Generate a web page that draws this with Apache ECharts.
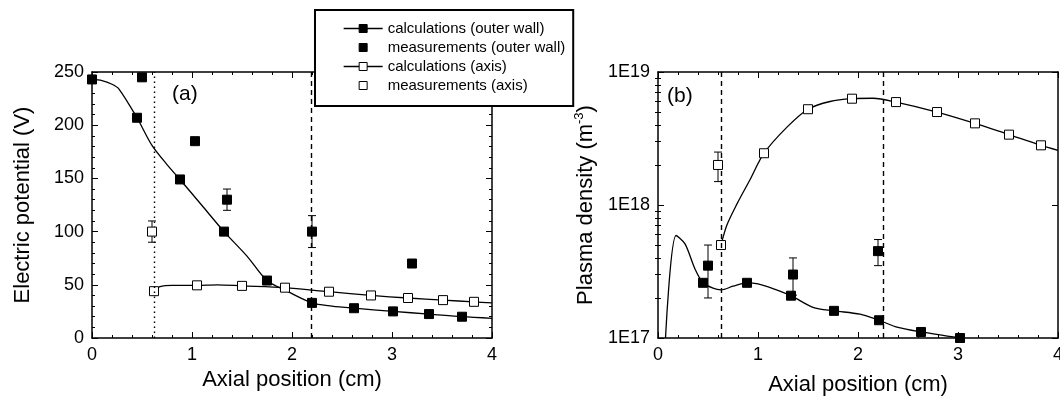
<!DOCTYPE html>
<html>
<head>
<meta charset="utf-8">
<script src="https://cdn.jsdelivr.net/npm/echarts@6/dist/echarts.min.js"></script>
<style>
html, body { margin: 0; background: #fff; }
#chart { width: 1060px; height: 399px; }
</style>
</head>
<body>
<div id="chart"></div>
<script>
// ---- data (a) electric potential ----
var posTicks = [0, 1, 2, 3, 4];
var potentialTicks = [0, 50, 100, 150, 200, 250];
var densityTicks = ['1E17', '1E18', '1E19'];
var densityMinor = [2e17, 3e17, 4e17, 5e17, 6e17, 7e17, 8e17, 9e17, 2e18, 3e18, 4e18, 5e18, 6e18, 7e18, 8e18, 9e18];

// calculations (outer wall): points with a marker, and the extra curve points
var calcWallA = [[0, 243], [0.45, 207], [0.88, 149], [1.32, 100], [1.75, 54], [2.2, 33], [2.62, 28], [3.01, 25], [3.37, 22.5], [3.70, 20]];
var calcWallCurveA = [[0.1, 242], [0.2, 238.5], [0.27, 234], [0.6, 181], [0.75, 163], [1.1, 124.5], [1.55, 77], [1.95, 44], [2.4, 30], [4.0, 18.5]];
var calcAxisA = [[0.62, 44], [1.05, 49.5], [1.5, 49], [1.93, 47.3], [2.37, 43.5], [2.79, 40], [3.16, 37.6], [3.51, 35.6], [3.82, 34]];
var calcAxisCurveA = [[0.68, 48.2], [0.8, 49.5], [1.25, 50], [4.0, 33]];
var measWallA = [[0.5, 245], [1.03, 185], [1.35, 130], [2.2, 100], [3.2, 70]];
var errWallA = [[0.5, 242, 248], [1.35, 120, 140], [2.2, 85, 115]];
var measAxisA = [[0.6, 100]];
var errAxisA = [[0.6, 90, 110]];
var dottedA = [0.62];
var dashedA = [2.19];

// ---- data (b) plasma density ----
var calcWallB = [[0.45, 2.6e17], [0.89, 2.6e17], [1.33, 2.08e17], [1.76, 1.6e17], [2.21, 1.36e17], [2.63, 1.11e17], [3.02, 1.0e17]];
var calcWallCurveB = [[0.075, 1.0e17], [0.18, 5.9e17], [0.27, 5.1e17], [0.37, 3.3e17], [0.55, 2.37e17], [0.63, 2.3e17], [0.75, 2.45e17], [1.0, 2.55e17], [1.15, 2.35e17], [1.55, 1.7e17], [2.02, 1.51e17], [2.4, 1.2e17]];
var calcAxisB = [[0.63, 5.0e17], [1.06, 2.45e18], [1.5, 5.25e18], [1.94, 6.3e18], [2.38, 5.94e18], [2.79, 5.0e18], [3.17, 4.11e18], [3.51, 3.38e18], [3.83, 2.81e18]];
var calcAxisCurveB = [[0.69, 7.1e17], [0.79, 1.02e18], [0.92, 1.55e18], [1.29, 3.85e18], [1.72, 6.0e18], [2.15, 6.35e18], [4.0, 2.58e18]];
var measWallB = [[0.5, 3.5e17], [1.35, 3.0e17], [2.2, 4.5e17]];
var errWallB = [[0.5, 2e17, 5e17], [1.35, 2.1e17, 4e17], [2.2, 3.5e17, 5.5e17]];
var measAxisB = [[0.6, 2.0e18]];
var errAxisB = [[0.6, 1.5e18, 2.5e18]];
var dashedB = [0.63, 2.25];

var FONT = 'Arial, "Liberation Sans", sans-serif';
var NAMES = ['calculations (outer wall)', 'measurements (outer wall)', 'calculations (axis)', 'measurements (axis)'];

// merge marker points and curve-only points, sorted by x
function curve(marks, extra) {
    var pts = marks.map(function (p) { return { value: p }; })
        .concat(extra.map(function (p) { return { value: p, symbol: 'none' }; }));
    pts.sort(function (a, b) { return a.value[0] - b.value[0]; });
    return pts;
}

var filled = { color: '#000', borderColor: '#000', borderWidth: 1 };
var hollow = { color: '#fff', borderColor: '#000', borderWidth: 1 };

function calcSeries(name, g, data, style) {
    return {
        name: name, type: 'line', xAxisIndex: g * 2, yAxisIndex: g === 0 ? 0 : 2,
        data: data, smooth: 0.3, symbol: 'rect', symbolSize: 9, showSymbol: true,
        itemStyle: style, lineStyle: { color: '#000', width: 1.3 },
        emphasis: { disabled: true }, z: 4
    };
}
function measSeries(name, g, data, style) {
    return {
        name: name, type: 'line', xAxisIndex: g * 2, yAxisIndex: g === 0 ? 0 : 2,
        data: data, symbol: 'rect', symbolSize: 9,
        itemStyle: style, lineStyle: { width: 0 },
        emphasis: { disabled: true }, z: 5
    };
}
function errSeries(g, data) {
    return {
        type: 'custom', xAxisIndex: g * 2, yAxisIndex: g === 0 ? 0 : 2,
        data: data, silent: true, z: 3,
        encode: { x: 0, y: [1, 2] },
        renderItem: function (params, api) {
            var x = api.value(0);
            var lo = api.coord([x, api.value(1)]);
            var hi = api.coord([x, api.value(2)]);
            var w = 4;
            var st = { stroke: '#000', lineWidth: 1 };
            return {
                type: 'group', children: [
                    { type: 'line', shape: { x1: lo[0], y1: lo[1], x2: hi[0], y2: hi[1] }, style: st },
                    { type: 'line', shape: { x1: lo[0] - w, y1: lo[1], x2: lo[0] + w, y2: lo[1] }, style: st },
                    { type: 'line', shape: { x1: hi[0] - w, y1: hi[1], x2: hi[0] + w, y2: hi[1] }, style: st }
                ]
            };
        }
    };
}
function vLines(list, dash) {
    return list.map(function (v) {
        return { xAxis: v, lineStyle: { type: dash, color: '#000', width: 1.4 } };
    });
}

var axisLine = { show: true, onZero: false, lineStyle: { color: '#000', width: 1.5 } };
var majorTick = { show: true, inside: true, length: 6, lineStyle: { color: '#000', width: 1 } };
var minorTick = { show: true, splitNumber: 5, length: 3, lineStyle: { color: '#000', width: 1 } };
var labelStyle = { color: '#000', fontSize: 18, fontFamily: FONT, margin: 8 };
var nameStyle = { color: '#000', fontSize: 22, fontFamily: FONT };

function xAxes(g, nameGap) {
    return [{
        type: 'value', gridIndex: g, position: 'bottom',
        min: posTicks[0], max: posTicks[posTicks.length - 1], interval: 1,
        axisLine: axisLine, axisTick: majorTick, minorTick: minorTick,
        axisLabel: labelStyle, splitLine: { show: false },
        name: 'Axial position (cm)', nameLocation: 'middle', nameGap: nameGap, nameTextStyle: nameStyle
    }, {
        type: 'value', gridIndex: g, position: 'top',
        min: posTicks[0], max: posTicks[posTicks.length - 1], interval: 1,
        axisLine: axisLine, axisTick: majorTick, minorTick: minorTick,
        axisLabel: { show: false }, splitLine: { show: false }
    }];
}

var logLabel = function (v) {
    return densityTicks[Math.round(Math.log(v) / Math.LN10) - 17];
};

var option = {
    animation: false,
    backgroundColor: '#fff',
    grid: [
        { left: 92, top: 72, width: 400, height: 266, outerBoundsMode: 'none' },
        { left: 658, top: 72, width: 400, height: 266, outerBoundsMode: 'none' }
    ],
    xAxis: xAxes(0, 26).concat(xAxes(1, 36)),
    yAxis: [{
        type: 'value', gridIndex: 0, position: 'left',
        min: potentialTicks[0], max: potentialTicks[potentialTicks.length - 1], interval: 50,
        axisLine: axisLine, axisTick: majorTick, minorTick: minorTick,
        axisLabel: labelStyle, splitLine: { show: false },
        name: 'Electric potential (V)', nameLocation: 'middle', nameGap: 58, nameTextStyle: nameStyle
    }, {
        type: 'value', gridIndex: 0, position: 'right',
        min: potentialTicks[0], max: potentialTicks[potentialTicks.length - 1], interval: 50,
        axisLine: axisLine, axisTick: majorTick, minorTick: minorTick,
        axisLabel: { show: false }, splitLine: { show: false }
    }, {
        type: 'log', logBase: 10, gridIndex: 1, position: 'left', min: 1e17, max: 1e19,
        axisLine: axisLine, axisTick: majorTick,
        axisLabel: Object.assign({ formatter: logLabel }, labelStyle), splitLine: { show: false },
        name: 'Plasma density (m{sup|-3})', nameLocation: 'middle', nameGap: 60,
        nameTextStyle: Object.assign({ rich: { sup: { fontSize: 13, fontFamily: FONT, color: '#000', padding: [0, 0, 12, 0] } } }, nameStyle)
    }, {
        type: 'log', logBase: 10, gridIndex: 1, position: 'right', min: 1e17, max: 1e19,
        axisLine: axisLine, axisTick: majorTick,
        axisLabel: { show: false }, splitLine: { show: false }
    }, {
        type: 'log', logBase: 10, gridIndex: 1, position: 'left', min: 1e17, max: 1e19,
        axisLine: { show: false },
        axisTick: { show: true, inside: true, length: 3, customValues: densityMinor, lineStyle: { color: '#000', width: 1 } },
        axisLabel: { show: false }, splitLine: { show: false }
    }, {
        type: 'log', logBase: 10, gridIndex: 1, position: 'right', min: 1e17, max: 1e19,
        axisLine: { show: false },
        axisTick: { show: true, inside: true, length: 3, customValues: densityMinor, lineStyle: { color: '#000', width: 1 } },
        axisLabel: { show: false }, splitLine: { show: false }
    }],
    legend: {
        left: 315, top: 10, orient: 'vertical',
        padding: [11, 8, 13, 28], itemGap: 4, itemWidth: 39, itemHeight: 10,
        backgroundColor: '#fff', borderColor: '#000', borderWidth: 2,
        selectedMode: false,
        textStyle: { color: '#000', fontSize: 15, fontFamily: FONT },
        data: [
            { name: NAMES[0], itemStyle: filled, lineStyle: { color: '#000', width: 1.3 } },
            { name: NAMES[1], itemStyle: filled, lineStyle: { width: 0 } },
            { name: NAMES[2], itemStyle: hollow, lineStyle: { color: '#000', width: 1.3 } },
            { name: NAMES[3], itemStyle: hollow, lineStyle: { width: 0 } }
        ]
    },
    graphic: [
        { type: 'text', left: 172, top: 84, style: { text: '(a)', font: '21px ' + FONT, fill: '#000' } },
        { type: 'text', left: 667, top: 86, style: { text: '(b)', font: '21px ' + FONT, fill: '#000' } }
    ],
    series: [
        errSeries(0, errWallA),
        errSeries(0, errAxisA),
        Object.assign(calcSeries(NAMES[0], 0, curve(calcWallA, calcWallCurveA), filled), {
            markLine: {
                silent: true, symbol: ['none', 'none'], label: { show: false },
                data: vLines(dottedA, [1.5, 3.5]).concat(vLines(dashedA, [5, 4]))
            }
        }),
        calcSeries(NAMES[2], 0, curve(calcAxisA, calcAxisCurveA), hollow),
        measSeries(NAMES[1], 0, measWallA, filled),
        measSeries(NAMES[3], 0, measAxisA, hollow),

        errSeries(1, errWallB),
        errSeries(1, errAxisB),
        Object.assign(calcSeries(NAMES[0], 1, curve(calcWallB, calcWallCurveB), filled), {
            markLine: {
                silent: true, symbol: ['none', 'none'], label: { show: false },
                data: vLines(dashedB, [5, 4])
            }
        }),
        calcSeries(NAMES[2], 1, curve(calcAxisB, calcAxisCurveB), hollow),
        measSeries(NAMES[1], 1, measWallB, filled),
        measSeries(NAMES[3], 1, measAxisB, hollow)
    ]
};

var myChart = echarts.init(document.getElementById('chart'));
myChart.setOption(option);
</script>
</body>
</html>
